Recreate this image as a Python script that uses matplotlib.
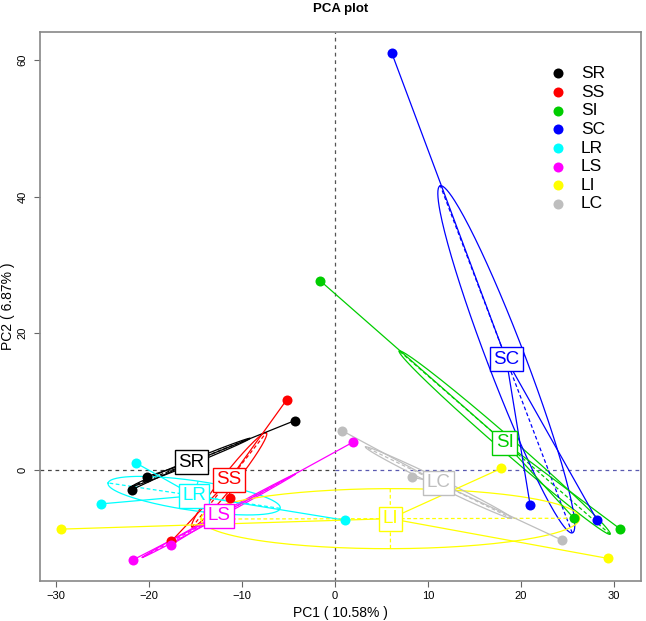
import numpy as np
import matplotlib
matplotlib.use("Agg")
import matplotlib.pyplot as plt

plt.rcParams['font.family'] = ['Liberation Sans', 'DejaVu Sans']

groups = ["SR", "SS", "SI", "SC", "LR", "LS", "LI", "LC"]
colors = ["#000000", "#FF0000", "#00CD00", "#0000FF", "#00FFFF", "#FF00FF", "#FFFF00", "#BEBEBE"]

pc1 = {
    "SR": [-4.3, -20.2, -21.8],
    "SS": [-5.2, -11.3, -17.6],
    "SI": [-1.6, 25.7, 30.7],
    "SC": [6.1, 21.0, 28.2],
    "LR": [-21.4, -25.1, 1.1],
    "LS": [-21.7, -17.6, 1.9],
    "LI": [-29.4, 17.9, 29.4],
    "LC": [0.8, 8.3, 24.4],
}
pc2 = {
    "SR": [7.2, -1.0, -2.9],
    "SS": [10.2, -4.2, -10.5],
    "SI": [27.7, -7.1, -8.7],
    "SC": [61.1, -5.2, -7.4],
    "LR": [1.0, -5.0, -7.4],
    "LS": [-13.2, -11.0, 4.0],
    "LI": [-8.7, 0.2, -13.0],
    "LC": [5.7, -1.1, -10.3],
}

x_ticks = [-30, -20, -10, 0, 10, 20, 30]
y_ticks = [0, 20, 40, 60]
title = "PCA plot"
xlabel = "PC1 ( 10.58% )"
ylabel = "PC2 ( 6.87% )"

ELL_COEF = 0.8

fig = plt.figure(figsize=(6.46, 6.21), dpi=100)
ax = fig.add_axes([0.062, 0.0644, 0.930, 0.884])
ax.set_xlim(-31.7, 32.9)
ax.set_ylim(-16.3, 64.1)

# reference lines
ax.plot([-31.7, 0], [0, 0], ls=(0, (3, 3)), color="#444444", lw=0.9, zorder=1)
ax.plot([0, 32.9], [0, 0], ls=(0, (3, 3)), color="#5a5ab0", lw=0.9, zorder=1)
ax.axvline(0, ls=(0, (3, 3)), color="#555555", lw=0.9, zorder=1)

t = np.linspace(0, 2 * np.pi, 200)
for g, c in zip(groups, colors):
    x = np.array(pc1[g]); y = np.array(pc2[g])
    mx, my = x.mean(), y.mean()
    cov = np.cov(np.vstack([x, y]), bias=True)
    vals, vecs = np.linalg.eigh(cov)
    a = ELL_COEF * np.sqrt(max(vals[1], 0)); b = ELL_COEF * np.sqrt(max(vals[0], 0))
    v1 = vecs[:, 1]; v2 = vecs[:, 0]
    ex = mx + a * np.cos(t) * v1[0] + b * np.sin(t) * v2[0]
    ey = my + a * np.cos(t) * v1[1] + b * np.sin(t) * v2[1]
    ax.plot(ex, ey, color=c, lw=0.9, zorder=2)
    ax.plot([mx - a * v1[0], mx + a * v1[0]], [my - a * v1[1], my + a * v1[1]],
            color=c, lw=0.9, ls=(0, (3, 2)), zorder=2)
    ax.plot([mx - b * v2[0], mx + b * v2[0]], [my - b * v2[1], my + b * v2[1]],
            color=c, lw=0.9, ls=(0, (3, 2)), zorder=2)
    for xi, yi in zip(x, y):
        ax.plot([mx, xi], [my, yi], color=c, lw=0.9, zorder=3)
    ax.scatter(x, y, s=52, color=c, zorder=4, linewidths=0)

for g, c in zip(groups, colors):
    mx, my = np.mean(pc1[g]), np.mean(pc2[g])
    ax.text(mx, my, g, color=c, fontsize=13.5, ha="center", va="center", zorder=6,
            bbox=dict(boxstyle="square,pad=0.18", fc="white", ec=c, lw=1.0))

# legend
handles = [ax.scatter([], [], s=52, color=c, linewidths=0) for c in colors]
leg = ax.legend(handles, groups, loc="upper right", bbox_to_anchor=(0.952, 0.951),
                frameon=False, fontsize=12.5, handletextpad=0.3, labelspacing=0.2,
                borderaxespad=0)

ax.set_xticks(x_ticks)
ax.set_yticks(y_ticks)
ax.tick_params(axis="both", labelsize=8, length=4, color="#666666", direction="out")
ax.tick_params(axis="y", pad=5)
for lab in ax.get_yticklabels():
    lab.set_rotation(90)
    lab.set_va("center")
for s in ax.spines.values():
    s.set_color("#888888")
    s.set_linewidth(1.2)
ax.set_xlabel(xlabel, fontsize=10, labelpad=3)
ax.set_ylabel(ylabel, fontsize=10)
ax.yaxis.set_label_coords(-0.041, 0.5)
fig.text(0.527, 0.986, title, ha="center", va="center", fontsize=9.5, fontweight="bold")

fig.savefig("out.png", dpi=100)
